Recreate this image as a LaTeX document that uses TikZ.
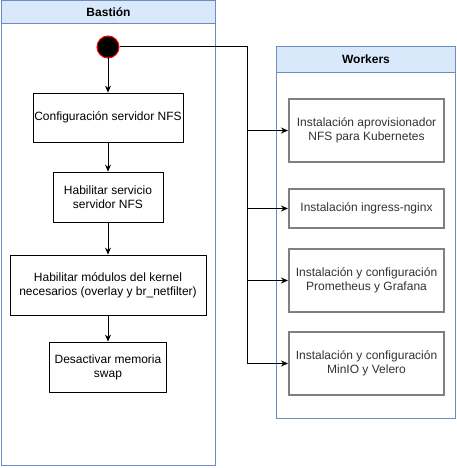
\documentclass[tikz,border=0pt]{standalone}
\usepackage{fontspec}
\setmainfont{Liberation Sans}
\usetikzlibrary{arrows.meta}
\definecolor{poolfill}{HTML}{DAE8FC}
\definecolor{poolline}{HTML}{6C8EBF}
\definecolor{taskline}{HTML}{808080}
\definecolor{tasktext}{HTML}{333333}
\begin{document}
\begin{tikzpicture}[x=1pt, y=-1pt, font=\fontsize{12}{14}\selectfont,
    pool/.style={draw=poolline, line width=1pt, fill=white, inner sep=0pt, outer sep=0pt, anchor=north west},
    poolhead/.style={pool, fill=poolfill, font=\fontsize{12}{14}\selectfont\bfseries},
    startdot/.style={circle, fill=black, draw=red, line width=1pt, minimum size=22pt, inner sep=0pt},
    task/.style={draw, line width=0.8pt, fill=white, align=center, inner sep=0pt},
    wtask/.style={draw=taskline, line width=2pt, fill=white, text=tasktext, align=center, inner sep=0pt, minimum width=155pt},
    flow/.style={line width=1pt, -{Stealth[length=7pt, width=6pt]}}]
            \useasboundingbox (0,0) rectangle (457,468);
            % pools
            \node[pool, minimum width=214pt, minimum height=465pt] (bastion) at (1.5,0.5) {};
            \node[poolhead, minimum width=214pt, minimum height=23pt] (bastionhead) at (bastion.north west) {Bastión};
            \node[pool, minimum width=179pt, minimum height=372pt] (workers) at (276.5,46.5) {};
            \node[poolhead, minimum width=179pt, minimum height=26pt] (workershead) at (workers.north west) {Workers};

            % Bastion steps
            \node[startdot] (start) at (108,47) {};
            \node[task, minimum width=150pt, minimum height=49pt] (nfsconf) at (108,117.5) {Configuración servidor NFS};
            \node[task, minimum width=110pt, minimum height=50pt] (nfsserv) at (108,197) {Habilitar servicio\\servidor NFS};
            \node[task, minimum width=196pt, minimum height=60pt] (kernel) at (108,285) {Habilitar módulos del kernel\\necesarios (overlay y br\_netfilter)};
            \node[task, minimum width=117pt, minimum height=50pt] (swap) at (108,367) {Desactivar memoria\\swap};
            \draw[flow] (start) -- (nfsconf);
            \draw[flow] (nfsconf) -- (nfsserv);
            \draw[flow] (nfsserv) -- (kernel);
            \draw[flow] (kernel) -- (swap);

            % Workers steps
            \node[wtask, minimum height=62pt] (provisioner) at (366.5,130.5) {Instalación aprovisionador\\NFS para Kubernetes};
            \node[wtask, minimum height=39pt] (ingress) at (366.5,208.5) {Instalación ingress-nginx};
            \node[wtask, minimum height=63pt] (monitoring) at (366.5,280.5) {Instalación y configuración\\Prometheus y Grafana};
            \node[wtask, minimum height=63pt] (backup) at (366.5,363.5) {Instalación y configuración\\MinIO y Velero};
            \coordinate (bus) at (247,363.5);
            \draw[line width=1pt] (start) -| (bus);
            \draw[flow] (bus |- provisioner) -- (provisioner);
            \draw[flow] (bus |- ingress) -- (ingress);
            \draw[flow] (bus |- monitoring) -- (monitoring);
            \draw[flow] (bus) -- (backup);

        \end{tikzpicture}
\end{document}
